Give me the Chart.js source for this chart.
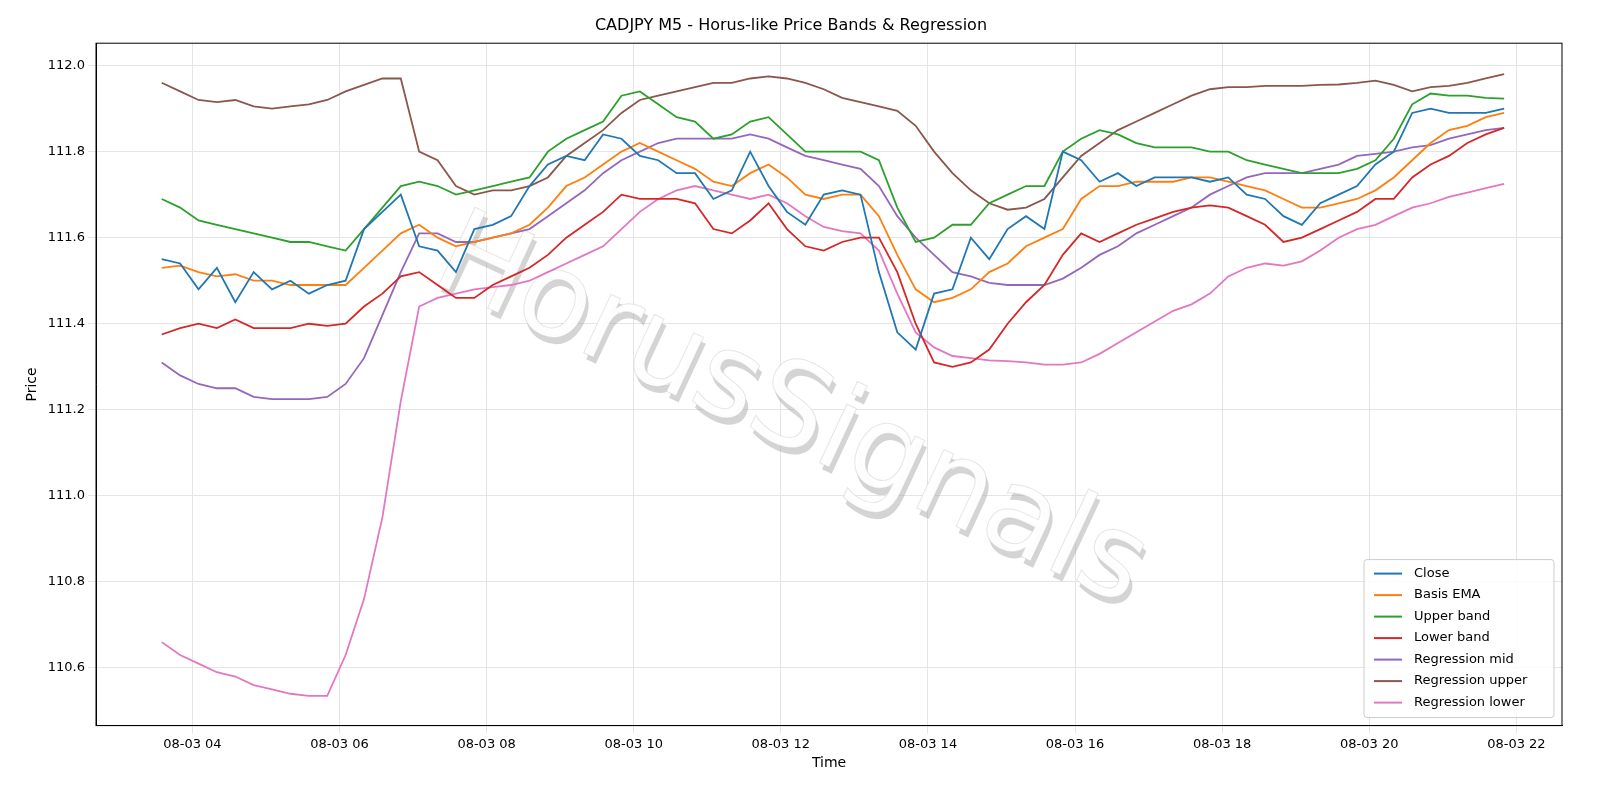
<!DOCTYPE html>
<html><head><meta charset="utf-8">
<script src="https://cdn.jsdelivr.net/npm/chart.js@4/dist/chart.umd.min.js"></script>
<style>body{margin:0;background:#fff}</style></head>
<body><canvas id="c" width="1600" height="800"></canvas>
<script>
// 15-minute samples starting 08-03 03:35
const startHour = 3 + 35/60;
const stepHours = 0.25;
const xTicks = [4,6,8,10,12,14,16,18,20,22];
const closeVals = [111.55,111.54,
 111.48,111.53,111.45,111.52, 111.48,111.50,111.47,111.49, 111.50,111.62,111.66,111.70,
 111.58,111.57,111.52,111.62, 111.63,111.65,111.72,111.77, 111.79,111.78,111.84,111.83,
 111.79,111.78,111.75,111.75, 111.69,111.71,111.80,111.72, 111.66,111.63,111.70,111.71,
 111.70,111.52,111.38,111.34, 111.47,111.48,111.60,111.55, 111.62,111.65,111.62,111.80,
 111.78,111.73,111.75,111.72, 111.74,111.74,111.74,111.73, 111.74,111.70,111.69,111.65,
 111.63,111.68,111.70,111.72, 111.77,111.80,111.89,111.90, 111.89,111.89,111.89,111.90];
const emaVals = [111.53,111.535,
 111.52,111.51,111.515,111.50, 111.50,111.49,111.49,111.49, 111.49,111.53,111.57,111.61,
 111.63,111.60,111.58,111.59, 111.60,111.61,111.63,111.67, 111.72,111.74,111.77,111.80,
 111.82,111.80,111.78,111.76, 111.73,111.72,111.75,111.77, 111.74,111.70,111.69,111.70,
 111.70,111.65,111.56,111.48, 111.45,111.46,111.48,111.52, 111.54,111.58,111.60,111.62,
 111.69,111.72,111.72,111.73, 111.73,111.73,111.74,111.74, 111.73,111.72,111.71,111.69,
 111.67,111.67,111.68,111.69, 111.71,111.74,111.78,111.82, 111.85,111.86,111.88,111.89];
const upperVals = [111.69,111.67,
 111.64,111.63,111.62,111.61, 111.60,111.59,111.59,111.58, 111.57,111.62,111.67,111.72,
 111.73,111.72,111.70,111.71, 111.72,111.73,111.74,111.80, 111.83,111.85,111.87,111.93,
 111.94,111.91,111.88,111.87, 111.83,111.84,111.87,111.88, 111.84,111.80,111.80,111.80,
 111.80,111.78,111.67,111.59, 111.60,111.63,111.63,111.68, 111.70,111.72,111.72,111.80,
 111.83,111.85,111.84,111.82, 111.81,111.81,111.81,111.80, 111.80,111.78,111.77,111.76,
 111.75,111.75,111.75,111.76, 111.78,111.83,111.91,111.935, 111.93,111.93,111.925,111.923];
const lowerVals = [111.375,111.39,
 111.40,111.39,111.41,111.39, 111.39,111.39,111.40,111.395, 111.40,111.44,111.47,111.51,
 111.52,111.49,111.46,111.46, 111.49,111.51,111.53,111.56, 111.60,111.63,111.66,111.70,
 111.69,111.69,111.69,111.68, 111.62,111.61,111.64,111.68, 111.62,111.58,111.57,111.59,
 111.60,111.60,111.52,111.40, 111.31,111.30,111.31,111.34, 111.40,111.45,111.49,111.56,
 111.61,111.59,111.61,111.63, 111.645,111.66,111.67,111.675, 111.67,111.65,111.63,111.59,
 111.60,111.62,111.64,111.66, 111.69,111.69,111.74,111.77, 111.79,111.82,111.84,111.855];
const regMidVals = [111.31,111.28,
 111.26,111.25,111.25,111.23, 111.225,111.225,111.225,111.23, 111.26,111.32,111.42,111.52,
 111.61,111.61,111.59,111.59, 111.60,111.61,111.62,111.65, 111.68,111.71,111.75,111.78,
 111.80,111.82,111.83,111.83, 111.83,111.83,111.84,111.83, 111.81,111.79,111.78,111.77,
 111.76,111.72,111.65,111.60, 111.56,111.52,111.51,111.495, 111.49,111.49,111.49,111.505,
 111.53,111.56,111.58,111.61, 111.63,111.65,111.67,111.70, 111.72,111.74,111.75,111.75,
 111.75,111.76,111.77,111.79, 111.795,111.80,111.81,111.815, 111.83,111.84,111.85,111.855];
const regUpperVals = [111.96,111.94,
 111.92,111.915,111.92,111.905, 111.90,111.905,111.91,111.92, 111.94,111.955,111.97,111.97,
 111.80,111.78,111.72,111.70, 111.71,111.71,111.72,111.74, 111.79,111.82,111.85,111.89,
 111.92,111.93,111.94,111.95, 111.96,111.96,111.97,111.975, 111.97,111.96,111.945,111.925,
 111.915,111.905,111.895,111.86, 111.80,111.75,111.71,111.68, 111.665,111.67,111.69,111.74,
 111.79,111.82,111.85,111.87, 111.89,111.91,111.93,111.945, 111.95,111.95,111.953,111.953,
 111.953,111.955,111.956,111.96, 111.965,111.955,111.94,111.95, 111.953,111.96,111.97,111.98];
const regLowerVals = [110.66,110.63,
 110.61,110.59,110.58,110.56, 110.55,110.54,110.535,110.535, 110.63,110.76,110.95,111.22,
 111.44,111.46,111.47,111.48, 111.485,111.49,111.50,111.52, 111.54,111.56,111.58,111.62,
 111.66,111.69,111.71,111.72, 111.71,111.70,111.69,111.70, 111.68,111.65,111.625,111.615,
 111.61,111.57,111.47,111.38, 111.345,111.325,111.32,111.315, 111.313,111.31,111.305,111.305,
 111.31,111.33,111.355,111.38, 111.405,111.43,111.445,111.47, 111.51,111.53,111.54,111.535,
 111.545,111.57,111.60,111.62, 111.63,111.65,111.67,111.68, 111.695,111.705,111.715,111.725];
const seriesNames = ['Close','Basis EMA','Upper band','Lower band','Regression mid','Regression upper','Regression lower'];
const seriesColors = ['#1f77b4','#ff7f0e','#2ca02c','#d62728','#9467bd','#8c564b','#e377c2'];
const seriesData = [closeVals,emaVals,upperVals,lowerVals,regMidVals,regUpperVals,regLowerVals];

const FONT = '"DejaVu Sans", sans-serif';
Chart.defaults.font.family = FONT;
Chart.defaults.color = '#000';

const datasets = seriesData.map((arr,i)=>({
  label: seriesNames[i],
  data: arr.map((v,k)=>({x: startHour + k*stepHours, y: v})),
  borderColor: seriesColors[i], backgroundColor: seriesColors[i],
  borderWidth: 1.8, pointRadius: 0, tension: 0
}));

const extras = {
  id:'extras',
  beforeDraw(c){
    const ctx=c.ctx; ctx.save(); ctx.fillStyle='#fff'; ctx.fillRect(0,0,c.width,c.height); ctx.restore();
  },
  beforeDatasetsDraw(c){
    const ctx=c.ctx; ctx.save();
    ctx.translate(790,415); ctx.rotate(25*Math.PI/180);
    ctx.font='118px "DejaVu Sans", sans-serif';
    ctx.textAlign='center'; ctx.textBaseline='middle';
    ctx.fillStyle='rgba(160,160,160,0.45)';
    ctx.fillText('HorusSignals',5,5);
    ctx.fillStyle='rgba(255,255,255,0.95)';
    ctx.fillText('HorusSignals',0,0);
    ctx.strokeStyle='rgba(200,200,200,0.45)'; ctx.lineWidth=1;
    ctx.strokeText('HorusSignals',0,0);
    ctx.restore();
  },
  afterDraw(c){
    const ctx=c.ctx, a=c.chartArea; ctx.save();
    ctx.strokeStyle='#000'; ctx.lineWidth=1;
    ctx.strokeRect(a.left,a.top,a.right-a.left,a.bottom-a.top);
    const w=190,h=158,x=a.right-w-8,y=a.bottom-h-8;
    ctx.fillStyle='rgba(255,255,255,0.85)'; ctx.strokeStyle='#ccc';
    ctx.beginPath(); ctx.roundRect(x,y,w,h,3); ctx.fill(); ctx.stroke();
    ctx.font='13px '+FONT; ctx.textBaseline='middle'; ctx.fillStyle='#000';
    seriesNames.forEach((n,i)=>{
      const yy=y+14+i*21.5;
      ctx.strokeStyle=seriesColors[i]; ctx.lineWidth=2;
      ctx.beginPath(); ctx.moveTo(x+10,yy); ctx.lineTo(x+38,yy); ctx.stroke();
      ctx.fillText(n,x+50,yy);
    });
    ctx.restore();
  }
};

new Chart(document.getElementById('c'),{
  type:'line',
  data:{datasets},
  options:{
    responsive:false, animation:false,
    layout:{padding:{left:20,right:38,top:12,bottom:24}},
    plugins:{
      legend:{display:false}, tooltip:{enabled:false},
      title:{display:true,text:'CADJPY M5 - Horus-like Price Bands & Regression',font:{size:16,weight:'normal'},padding:{top:4,bottom:8}}
    },
    scales:{
      x:{type:'linear',min:2.69,max:22.62,
        afterBuildTicks(s){s.ticks=xTicks.map(v=>({value:v}));},
        ticks:{font:{size:13},maxRotation:0,callback:v=>'08-03 '+String(v).padStart(2,'0')},
        grid:{color:'#e5e5e5'},border:{color:'#000'},
        title:{display:true,text:'Time',font:{size:14},padding:{top:0}}},
      y:{min:110.466,max:112.052,
        afterBuildTicks(s){s.ticks=[110.6,110.8,111.0,111.2,111.4,111.6,111.8,112.0].map(v=>({value:v}));},
        ticks:{font:{size:13},callback:v=>v.toFixed(1)},
        grid:{color:'#e5e5e5'},border:{color:'#000'},
        title:{display:true,text:'Price',font:{size:14}}}
    }
  },
  plugins:[extras]
});
</script></body></html>
